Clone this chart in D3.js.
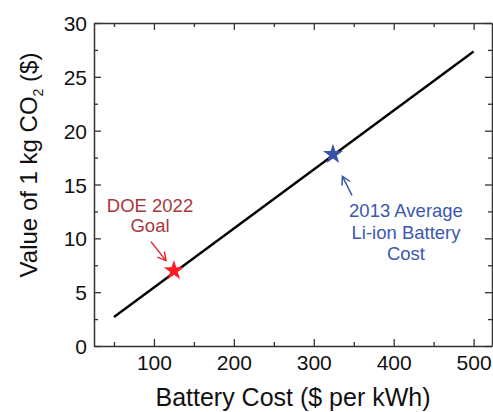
<!DOCTYPE html>
<html>
<head>
<meta charset="utf-8">
<script src="https://cdn.jsdelivr.net/npm/d3@7/dist/d3.min.js"></script>
<style>
  body { margin: 0; background: #fff; }
  svg { display: block; font-family: "Liberation Sans", Arial, sans-serif; }
</style>
</head>
<body>
<svg id="chart" width="493" height="412"></svg>
<script>
// Data
const lineX = [50, 500];
const lineY = [2.7, 27.35];
const starPoints = [
  { name: "DOE 2022 Goal", x: 125, y: 7.0 },
  { name: "2013 Average Li-ion Battery Cost", x: 324, y: 17.8 }
];
const xMajorTicks = [100, 200, 300, 400, 500];
const xMinorTicks = [50, 150, 250, 350, 450];
const yMajorTicks = [0, 5, 10, 15, 20, 25, 30];
const yMinorTicks = [2.5, 7.5, 12.5, 17.5, 22.5, 27.5];
const redLabel = ["DOE 2022", "Goal"];
const blueLabel = ["2013 Average", "Li-ion Battery", "Cost"];

const W = 493, H = 412;
const m = { left: 94, right: 1, top: 23, bottom: 66 };
const svg = d3.select("#chart");

const x = d3.scaleLinear().domain([25, 523]).range([m.left, W - m.right]);
const y = d3.scaleLinear().domain([0, 30]).range([H - m.bottom, m.top]);

const axisColor = "#333";
const fs = 21;

function styleAxis(g) {
  g.selectAll("path.domain").attr("stroke", axisColor).attr("stroke-width", 1.5);
  g.selectAll(".tick line").attr("stroke", axisColor).attr("stroke-width", 1.3);
  g.selectAll(".tick text").attr("fill", "#111").style("font-size", fs + "px")
    .style("font-family", '"Liberation Sans", Arial, sans-serif');
}

// Bottom axis
const gB = svg.append("g").attr("transform", `translate(0,${y(0)})`);
gB.call(d3.axisBottom(x).tickValues(xMinorTicks).tickSize(-4).tickSizeOuter(0).tickFormat(""));
gB.append("g").call(d3.axisBottom(x).tickValues(xMajorTicks).tickSize(-7).tickSizeOuter(0).tickPadding(9))
  .call(g => g.select(".domain").remove());
styleAxis(gB);

// Top axis
const gT = svg.append("g").attr("transform", `translate(0,${y(30)})`);
gT.call(d3.axisTop(x).tickValues(xMinorTicks).tickSize(-4).tickSizeOuter(0).tickFormat(""));
gT.append("g").call(d3.axisTop(x).tickValues(xMajorTicks).tickSize(-7).tickSizeOuter(0).tickFormat(""))
  .call(g => g.select(".domain").remove());
styleAxis(gT);

// Left axis
const gL = svg.append("g").attr("transform", `translate(${x(25)},0)`);
gL.call(d3.axisLeft(y).tickValues(yMinorTicks).tickSize(-4).tickSizeOuter(0).tickFormat(""));
gL.append("g").call(d3.axisLeft(y).tickValues(yMajorTicks).tickSize(-7).tickSizeOuter(0).tickPadding(7))
  .call(g => g.select(".domain").remove());
styleAxis(gL);
gL.selectAll(".tick text").attr("dy", "0.36em");

// Right axis
const gR = svg.append("g").attr("transform", `translate(${x(523)},0)`);
gR.call(d3.axisRight(y).tickValues(yMinorTicks).tickSize(-4).tickSizeOuter(0).tickFormat(""));
gR.append("g").call(d3.axisRight(y).tickValues(yMajorTicks).tickSize(-7).tickSizeOuter(0).tickFormat(""))
  .call(g => g.select(".domain").remove());
styleAxis(gR);

// Line
const lineData = lineX.map((v, i) => [v, lineY[i]]);
svg.append("path")
  .datum(lineData)
  .attr("fill", "none")
  .attr("stroke", "#000")
  .attr("stroke-width", 2.4)
  .attr("d", d3.line().x(d => x(d[0])).y(d => y(d[1])));

// Arrow markers
const defs = svg.append("defs");
function marker(id, color) {
  defs.append("marker")
    .attr("id", id)
    .attr("viewBox", "-10 -6 12 12")
    .attr("refX", 0).attr("refY", 0)
    .attr("markerWidth", 12).attr("markerHeight", 12)
    .attr("markerUnits", "userSpaceOnUse")
    .attr("orient", "auto")
    .append("path")
    .attr("d", "M-8,-4.5 L0,0 L-8,4.5")
    .attr("fill", "none")
    .attr("stroke", color)
    .attr("stroke-width", 1.5);
}
marker("arrRed", "#e8232e");
marker("arrBlue", "#3a55ad");

const red = starPoints[0], blue = starPoints[1];
svg.append("line")
  .attr("x1", x(red.x) - 23).attr("y1", y(red.y) - 29)
  .attr("x2", x(red.x) - 8).attr("y2", y(red.y) - 10)
  .attr("stroke", "#e8232e").attr("stroke-width", 1.5)
  .attr("marker-end", "url(#arrRed)");

svg.append("line")
  .attr("x1", x(blue.x) + 19).attr("y1", y(blue.y) + 41)
  .attr("x2", x(blue.x) + 9.5).attr("y2", y(blue.y) + 22)
  .attr("stroke", "#3a55ad").attr("stroke-width", 1.5)
  .attr("marker-end", "url(#arrBlue)");

// Stars
const star = d3.symbol().type(d3.symbolStar).size(125);
svg.append("path").attr("d", star())
  .attr("transform", `translate(${x(red.x)},${y(red.y)})`)
  .attr("fill", "#ff1c24");
svg.append("path").attr("d", star())
  .attr("transform", `translate(${x(blue.x)},${y(blue.y)})`)
  .attr("fill", "#3a52aa");

// Labels
const redT = svg.append("text").attr("text-anchor", "middle")
  .attr("fill", "#a8383c").style("font-size", "18.5px");
redLabel.forEach((t, i) => redT.append("tspan").attr("x", 150).attr("y", 212 + i * 20).text(t));

const blueT = svg.append("text").attr("text-anchor", "middle")
  .attr("fill", "#3c57b0").style("font-size", "18.5px");
blueLabel.forEach((t, i) => blueT.append("tspan").attr("x", 406).attr("y", 217 + i * 21.7).text(t));

// Axis titles
svg.append("text")
  .attr("x", (m.left + W - m.right) / 2).attr("y", 406)
  .attr("text-anchor", "middle").attr("fill", "#111")
  .style("font-size", "25px")
  .text("Battery Cost ($ per kWh)");

const yt = svg.append("text")
  .attr("transform", `translate(37,165) rotate(-90)`)
  .attr("text-anchor", "middle").attr("fill", "#111")
  .style("font-size", "24px");
yt.append("tspan").text("Value of 1 kg CO");
yt.append("tspan").attr("dy", 6).style("font-size", "14px").text("2");
yt.append("tspan").attr("dy", -6).text(" ($)");
</script>
</body>
</html>
